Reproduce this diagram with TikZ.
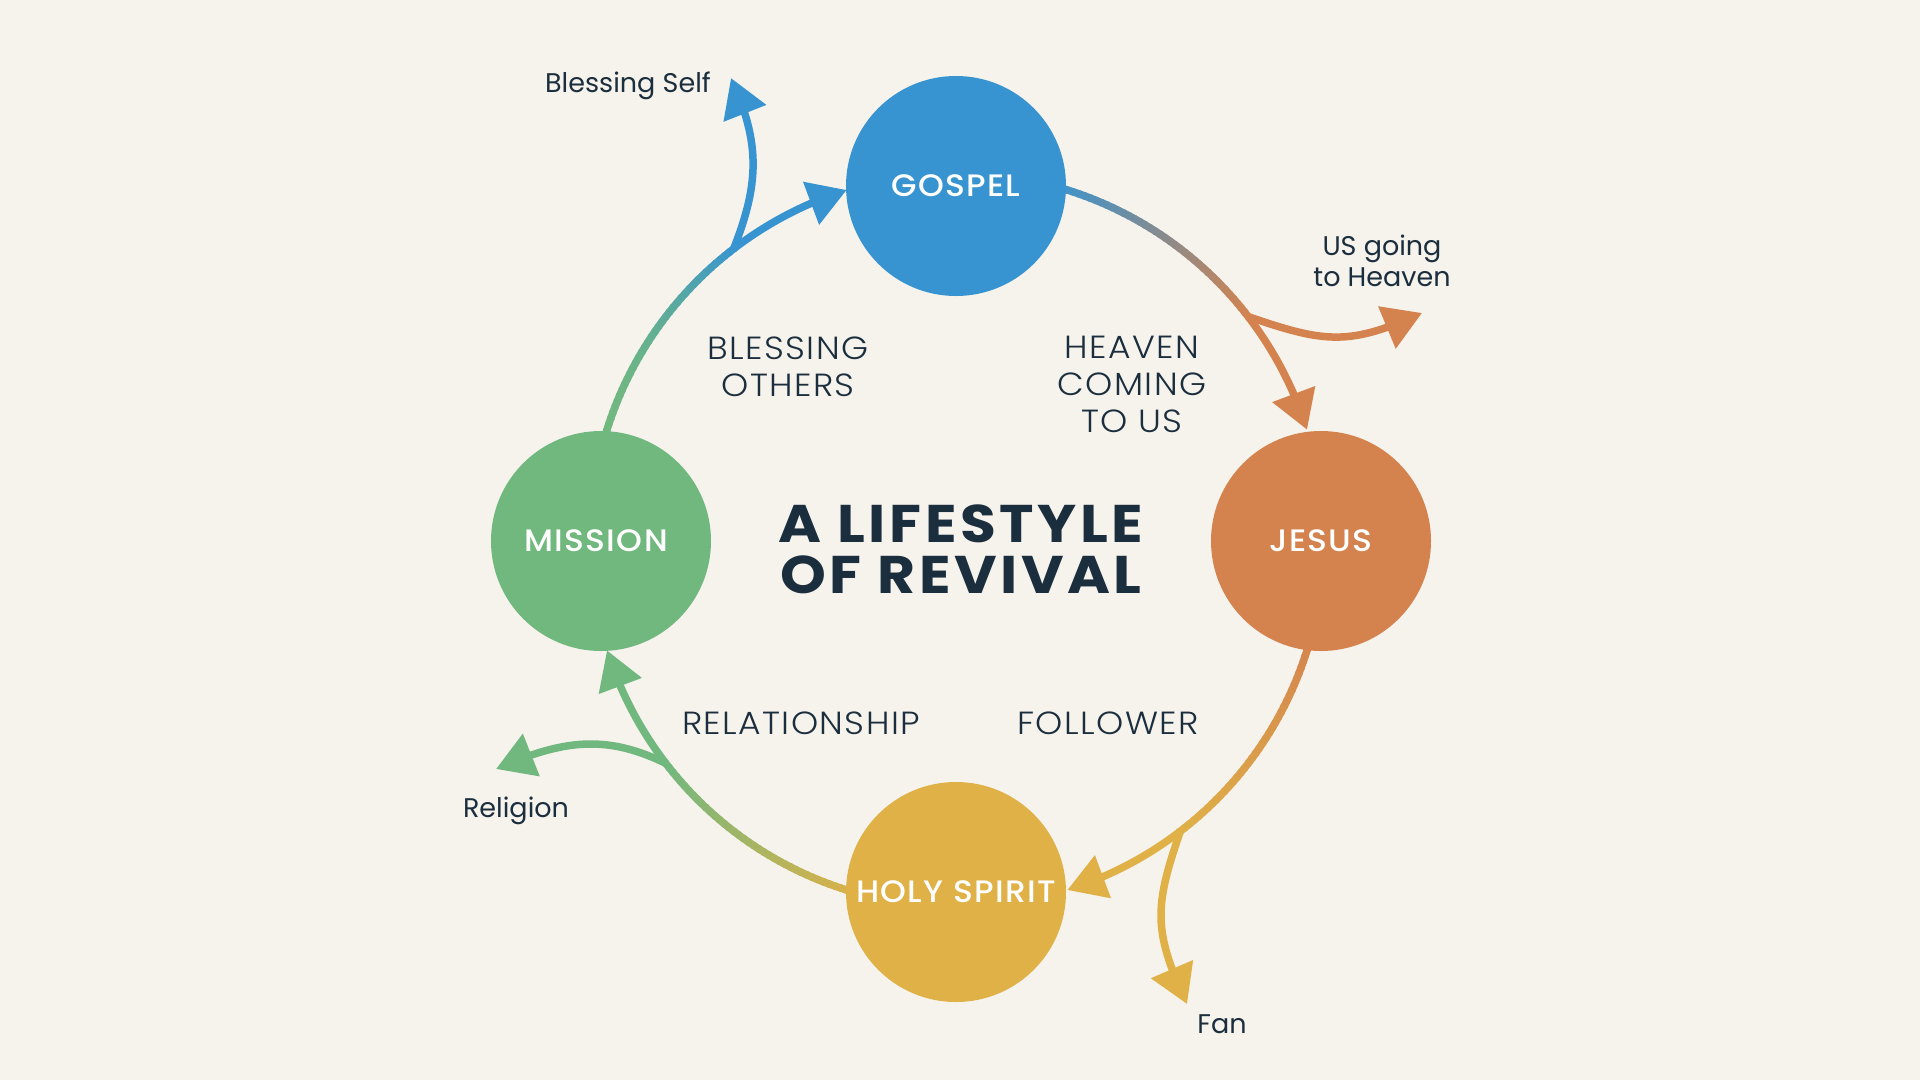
\documentclass[tikz,border=0pt]{standalone}
\usepackage{fontspec}
\setmainfont{Poppins}
\newfontfamily\popmed{Poppins Medium}
\newfontfamily\poplight{Poppins Light}
\usetikzlibrary{arrows.meta,bending,calc}
\definecolor{bg}{HTML}{F6F2EC}
\definecolor{cblue}{HTML}{3794D1}
\definecolor{corange}{HTML}{D4834F}
\definecolor{cyellow}{HTML}{DFB147}
\definecolor{cgreen}{HTML}{71B87F}
\definecolor{ink}{HTML}{1B2E3D}
% #1 start angle, #2 branch angle, #3 end angle, #4 from colour, #5 to colour, #6 exponent
\newcommand\gradarc[6]{%
  \foreach \k in {0,...,39}{%
    \pgfmathsetmacro\aa{#1+3-(\k)*((#1+3-#2)/40)}%
    \pgfmathsetmacro\bb{#1+3-(\k+1)*((#1+3-#2)/40)-0.3}%
    \pgfmathsetmacro\pp{100-100*((\k+0.5)/40)^(#6)}%
    \draw[flow,color=#4!\pp!#5] ($(hub)+(\aa:367)$) arc[start angle=\aa,end angle=\bb,radius=367];
  }%
  \draw[flow,tipend,color=#5] ($(hub)+(#2:367)$) arc[start angle=#2,end angle=#3,radius=367];
}
\begin{document}
\begin{tikzpicture}[x=1pt,y=1pt,
  hubnode/.style={circle,minimum size=220pt,inner sep=0pt,text=white,font=\popmed\fontsize{31}{36}\selectfont\addfontfeatures{FakeStretch=1.06,LetterSpace=4.3}},
  flow/.style={line width=7.5pt},
  tipend/.style={-{Triangle[length=38pt,width=44pt]}},
  lbl/.style={text=ink,font=\poplight\fontsize{32}{37}\selectfont\addfontfeatures{FakeStretch=1.08,LetterSpace=4.4},align=center,inner sep=0pt},
  small/.style={text=ink,font=\fontsize{27}{31}\selectfont,align=center,inner sep=0pt},
  title/.style={text=ink,font=\bfseries\fontsize{53}{51}\selectfont\addfontfeatures{FakeStretch=1.1,LetterSpace=6.8},align=center,inner sep=0pt}]
\fill[bg] (0,0) rectangle (1920,-1080);
\useasboundingbox (0,0) rectangle (1920,-1080);
\coordinate (hub) at (957,-540);

% main cycle arcs
\gradarc{72.5}{37.5}{17.5}{cblue}{corange}{1}
\gradarc{-17.5}{-52.5}{-72.5}{corange}{cyellow}{1}
\gradarc{252.5}{217.5}{197.5}{cyellow}{cgreen}{1}
\gradarc{162.5}{127.5}{107.5}{cgreen}{cblue}{2.2}

% branch points and tips
\coordinate (bSelf) at ($(hub)+(127.5:367)$);
\coordinate (tSelf) at (731,-78);
\coordinate (bUs) at ($(hub)+(37.5:367)$);
\coordinate (tUs) at (1422,-313);
\coordinate (bFan) at ($(hub)+(-52.5:367)$);
\coordinate (tFan) at (1187,-1004);
\coordinate (bRel) at ($(hub)+(217.5:367)$);
\coordinate (tRel) at (496,-769);

\draw[flow,tipend,cblue] (bSelf) .. controls (760,-182) and (760,-142) .. (tSelf);
\draw[flow,tipend,corange] (bUs) .. controls (1325,-343) and (1349,-346) .. (tUs);
\draw[flow,tipend,cyellow] (bFan) .. controls (1154,-907) and (1153,-931) .. (tFan);
\draw[flow,tipend,cgreen] (bRel) .. controls (604,-733) and (560,-741) .. (tRel);

% circles
\node[hubnode,fill=cblue] (gospel) at (956,-186) {GOSPEL};
\node[hubnode,fill=corange] (jesus) at (1321,-541) {JESUS};
\node[hubnode,fill=cyellow] (spirit) at (956,-892) {HOLY SPIRIT};
\node[hubnode,fill=cgreen] (mission) at (601,-541) {\kern-10pt MISSION};

% labels (anchor base = baseline of last line)
\node[small,anchor=base] (lself) at (628,-92) {Blessing Self};
\node[small,anchor=base] (lus) at (1382,-286) {US going\\to Heaven};
\node[small,anchor=base] (lfan) at (1222,-1033) {Fan};
\node[small,anchor=base] (lrel) at (516,-817) {Religion};
\node[lbl,anchor=base] (lbo) at (788,-396) {BLESSING\\OTHERS};
\node[lbl,anchor=base] (lhc) at (1132,-432) {HEAVEN\\COMING\\TO US};
\node[lbl,anchor=base] (lrelat) at (801,-734) {RELATIONSHIP};
\node[lbl,anchor=base] (lfol) at (1108,-734) {FOLLOWER};
\node[title,anchor=base] (ttl) at (961,-593) {A LIFESTYLE\\OF REVIVAL};
\end{tikzpicture}
\end{document}
